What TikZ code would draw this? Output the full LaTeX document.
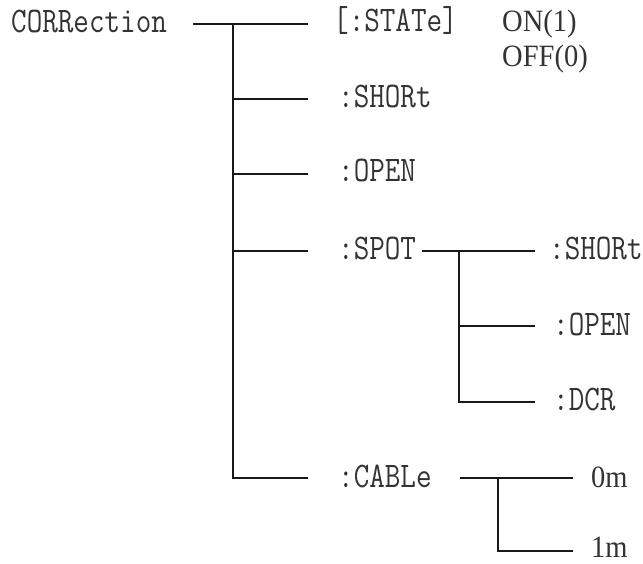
\documentclass[tikz,border=0pt]{standalone}
\usepackage{fontspec}
\setmainfont{Liberation Serif}
\newfontfamily\cmdfont[FakeStretch=0.84]{Latin Modern Mono}
\newfontfamily\valfont[FakeStretch=0.92]{Liberation Serif}
\tikzset{
  cmd/.style={anchor=base west, inner sep=0pt, text=black!80, font=\fontsize{36}{36}\selectfont\cmdfont},
  val/.style={anchor=base west, inner sep=0pt, text=black!80, font=\fontsize{31}{31}\selectfont\valfont},
  wire/.style={draw=black!90, line width=1.2pt},
}
\begin{document}
\begin{tikzpicture}[x=1pt,y=-1pt]
\useasboundingbox (0,0) rectangle (643,564);
% labels
\node[cmd] (corr) at (11,33) {CORRection};
\node[cmd] (state) at (333,32) {[:STATe]};
\node[val] (on) at (502,32) {ON(1)};
\node[val] (off) at (502,67) {OFF(0)};
\node[cmd] (short) at (338,108) {:SHORt};
\node[cmd] (open) at (338,182) {:OPEN};
\node[cmd] (spot) at (338,260) {:SPOT};
\node[cmd] (sshort) at (549,260) {:SHORt};
\node[cmd] (sopen) at (553,335) {:OPEN};
\node[cmd] (sdcr) at (553,410) {:DCR};
\node[cmd] (cable) at (338,487) {:CABLe};
\node[val] (zm) at (591,487) {0m};
\node[val] (om) at (591,557) {1m};
% junction coordinates
\coordinate (t0) at (233,24);
\coordinate (t1) at (233,478);
\coordinate (s0) at (459,251);
\coordinate (s1) at (459,402);
\coordinate (c0) at (498,478);
\coordinate (c1) at (498,551);
% main tree
\draw[wire] (193,24) -- (308,24);
\draw[wire] (t0) -- (t1) -- (308,478);
\draw[wire] (233,99) -- (308,99);
\draw[wire] (233,174) -- (308,174);
\draw[wire] (233,251) -- (308,251);
% SPOT subtree
\draw[wire] (422,251) -- (535,251);
\draw[wire] (s0) -- (s1) -- (535,402);
\draw[wire] (459,326) -- (535,326);
% CABLe subtree
\draw[wire] (460,478) -- (573,478);
\draw[wire] (c0) -- (c1) -- (573,551);
\end{tikzpicture}
\end{document}
